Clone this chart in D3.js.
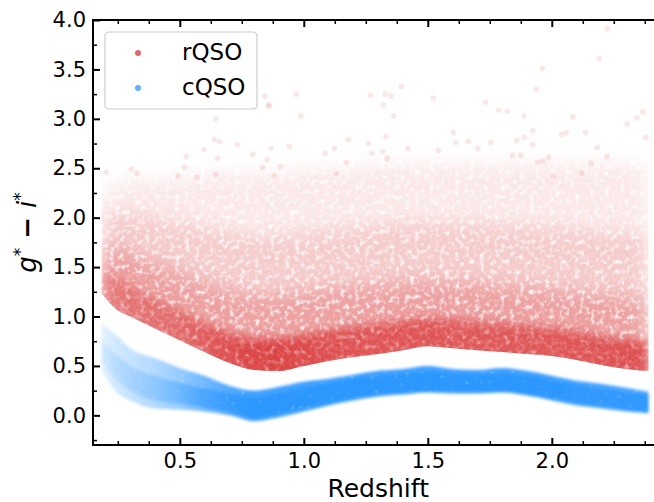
<!DOCTYPE html>
<html>
<head>
<meta charset="utf-8">
<script src="https://cdn.jsdelivr.net/npm/d3@7"></script>
<style>
  body { margin: 0; background: #fff; }
  svg text { font-family: "DejaVu Sans", sans-serif; fill: #000; }
</style>
</head>
<body>
<div id="chart"></div>
<script>
const zGrid = [0.185, 0.25, 0.3, 0.4, 0.5, 0.6, 0.7, 0.8, 0.9, 1.0, 1.1, 1.2, 1.3, 1.4, 1.5, 1.6, 1.7, 1.8, 1.9, 2.0, 2.1, 2.2, 2.3, 2.39];

// rQSO cloud: lower edge and tops of the dense / medium / light / sparse layers
const rLow = [1.25, 1.08, 1.02, 0.90, 0.78, 0.66, 0.55, 0.48, 0.47, 0.52, 0.57, 0.61, 0.64, 0.68, 0.72, 0.70, 0.68, 0.66, 0.64, 0.62, 0.58, 0.53, 0.49, 0.47];
const rQ1  = [1.50, 1.40, 1.32, 1.18, 1.06, 0.94, 0.84, 0.78, 0.78, 0.82, 0.86, 0.90, 0.93, 0.96, 0.98, 0.97, 0.95, 0.93, 0.91, 0.89, 0.85, 0.80, 0.77, 0.75];
const rQ2  = [1.75, 1.70, 1.65, 1.55, 1.45, 1.35, 1.27, 1.22, 1.22, 1.25, 1.28, 1.30, 1.32, 1.35, 1.36, 1.35, 1.34, 1.32, 1.30, 1.28, 1.25, 1.22, 1.20, 1.18];
const rQ3  = [2.05, 2.05, 2.05, 2.00, 1.95, 1.90, 1.85, 1.82, 1.82, 1.85, 1.88, 1.90, 1.92, 1.95, 1.95, 1.95, 1.95, 1.93, 1.92, 1.90, 1.88, 1.85, 1.85, 1.82];
const rQ4  = [2.30, 2.35, 2.40, 2.40, 2.40, 2.45, 2.45, 2.45, 2.45, 2.50, 2.50, 2.50, 2.55, 2.55, 2.55, 2.55, 2.55, 2.55, 2.55, 2.55, 2.55, 2.55, 2.55, 2.50];
const rDens = [0.4, 0.45, 0.5, 0.55, 0.62, 0.75, 0.9, 1.0, 1.0, 0.95, 0.9, 0.85, 0.85, 0.85, 0.85, 0.8, 0.8, 0.8, 0.8, 0.8, 0.85, 0.85, 0.9, 0.9];

// cQSO cloud: outer edges, core edges and relative density along redshift
const bLow  = [0.45, 0.22, 0.15, 0.07, 0.06, 0.04, 0.00, -0.06, -0.02, 0.04, 0.10, 0.15, 0.19, 0.21, 0.23, 0.22, 0.22, 0.23, 0.20, 0.15, 0.10, 0.07, 0.04, 0.02];
const bCLo  = [0.55, 0.35, 0.25, 0.15, 0.12, 0.08, 0.04, -0.02, 0.02, 0.08, 0.13, 0.18, 0.22, 0.24, 0.25, 0.25, 0.24, 0.25, 0.22, 0.18, 0.13, 0.10, 0.06, 0.04];
const bCHi  = [0.75, 0.60, 0.50, 0.40, 0.33, 0.27, 0.22, 0.18, 0.22, 0.28, 0.32, 0.37, 0.40, 0.42, 0.44, 0.42, 0.41, 0.42, 0.40, 0.35, 0.31, 0.27, 0.23, 0.20];
const bHigh = [0.93, 0.80, 0.68, 0.58, 0.48, 0.40, 0.30, 0.25, 0.29, 0.34, 0.37, 0.41, 0.45, 0.47, 0.50, 0.47, 0.46, 0.48, 0.45, 0.40, 0.35, 0.32, 0.28, 0.24];
const bDens = [0.15, 0.25, 0.30, 0.40, 0.55, 0.75, 0.90, 1.0, 1.0, 1.0, 1.0, 1.0, 1.0, 1.0, 1.0, 1.0, 1.0, 1.0, 1.0, 1.0, 0.95, 0.95, 0.95, 0.95];

// sparse rQSO points far above the cloud
const outZ = [0.858, 0.988, 0.644, 0.639, 0.661, 0.733, 1.179, 1.261, 0.597, 0.653, 0.526, 0.794, 0.868, 0.941, 1.086, 1.123, 0.852, 1.171, 0.203, 0.304, 0.327, 0.520, 0.833, 0.906, 1.131, 0.645, 0.492, 0.569, 0.881, 1.274,
  2.223, 2.191, 1.962, 1.393, 1.937, 1.522, 1.329, 1.352, 1.320, 1.269, 1.733, 1.785, 1.820, 1.362, 1.887, 2.085, 2.367, 2.343, 2.304, 2.379, 1.602, 2.038, 2.058, 2.136, 1.923, 1.889, 1.859, 1.331, 1.663, 1.754,
  1.613, 1.420, 1.702, 1.542, 2.183, 2.223, 1.922, 1.319, 1.336, 1.842, 1.873, 1.987, 2.159, 1.942, 1.964, 2.121, 2.004, 0.782, 0.842, 0.860, 0.970];
const outG = [3.14, 3.03, 3.00, 2.79, 2.77, 2.74, 2.79, 2.75, 2.69, 2.60, 2.62, 2.64, 2.70, 2.72, 2.65, 2.70, 2.59, 2.56, 2.46, 2.49, 2.45, 2.51, 2.51, 2.52, 2.45, 2.44, 2.42, 2.41, 2.42, 2.65,
  3.91, 3.61, 3.51, 3.33, 3.30, 3.21, 3.25, 3.23, 3.14, 3.24, 3.17, 3.09, 3.08, 3.03, 3.03, 3.02, 3.07, 3.01, 2.95, 2.81, 2.86, 2.84, 2.86, 2.86, 2.88, 2.81, 2.78, 2.82, 2.77, 2.76,
  2.76, 2.70, 2.70, 2.68, 2.71, 2.62, 2.74, 2.67, 2.60, 2.63, 2.63, 2.61, 2.55, 2.56, 2.57, 2.45, 2.42, 3.63, 3.23, 3.13, 3.25];

const xMajor = [0.5, 1.0, 1.5, 2.0];
const yMajor = [0.0, 0.5, 1.0, 1.5, 2.0, 2.5, 3.0, 3.5, 4.0];

const width = 654, height = 502;
const margin = { top: 20, right: -9.4, bottom: 57, left: 93 };

const svg = d3.select('#chart').append('svg')
  .attr('width', width)
  .attr('height', height);

const x = d3.scaleLinear().domain([0.15, 2.45]).range([margin.left, width - margin.right]);
const y = d3.scaleLinear().domain([-0.3, 4.0]).range([height - margin.bottom, margin.top]);

const defs = svg.append('defs');
defs.append('clipPath').attr('id', 'plotclip').append('rect')
  .attr('x', x(0.15)).attr('y', y(4.0))
  .attr('width', x(2.45) - x(0.15)).attr('height', y(-0.3) - y(4.0));

// blur plus a fine grain, so the filled bands read like a cloud of faint dots
function grainFilter(id, sd, freq, slope, offset, seed) {
  const f = defs.append('filter').attr('id', id)
    .attr('filterUnits', 'userSpaceOnUse')
    .attr('x', 0).attr('y', 0).attr('width', width).attr('height', height)
    .attr('color-interpolation-filters', 'sRGB');
  f.append('feGaussianBlur').attr('in', 'SourceGraphic').attr('stdDeviation', sd).attr('result', 'b');
  f.append('feTurbulence').attr('type', 'fractalNoise').attr('baseFrequency', freq)
    .attr('numOctaves', 2).attr('seed', seed).attr('result', 'n');
  f.append('feColorMatrix').attr('in', 'n').attr('type', 'matrix')
    .attr('values', `0 0 0 0 1  0 0 0 0 1  0 0 0 0 1  ${slope} 0 0 0 ${offset}`)
    .attr('result', 'm');
  f.append('feComposite').attr('in', 'b').attr('in2', 'm')
    .attr('operator', 'arithmetic').attr('k1', 1).attr('k2', 0).attr('k3', 0).attr('k4', 0);
}
grainFilter('redWideF', 9, 0.2, 2.6, -0.35, 4);
grainFilter('redCoreF', 5, 0.2, 2.0, 0.0, 7);
grainFilter('blueF', 1.8, 0.2, 1.2, 0.6, 11);

// region above the red lower edge, so the blurred haze keeps a firm floor
const aboveLow = d3.area()
  .x((d, i) => x(zGrid[i]))
  .y0((d, i) => y(rLow[i]) + 2)
  .y1(y(4.0))
  .curve(d3.curveMonotoneX);
defs.append('clipPath').attr('id', 'redfloor').append('path').attr('d', aboveLow(zGrid));

function densityGradient(id, color, dens) {
  const g = defs.append('linearGradient').attr('id', id)
    .attr('gradientUnits', 'userSpaceOnUse')
    .attr('x1', x(zGrid[0])).attr('x2', x(zGrid[zGrid.length - 1]))
    .attr('y1', 0).attr('y2', 0);
  const span = x(zGrid[zGrid.length - 1]) - x(zGrid[0]);
  zGrid.forEach((z, i) => {
    g.append('stop')
      .attr('offset', (x(z) - x(zGrid[0])) / span)
      .attr('stop-color', color)
      .attr('stop-opacity', dens[i]);
  });
}
densityGradient('bgrad', '#1e90ff', bDens);
densityGradient('rgrad', '#d62728', rDens);

const plot = svg.append('g').attr('clip-path', 'url(#plotclip)');

// red cloud
const redClip = plot.append('g').attr('clip-path', 'url(#redfloor)');
const redWide = redClip.append('g').attr('filter', 'url(#redWideF)');
const redCore = redClip.append('g').attr('filter', 'url(#redCoreF)');
const redLayers = [
  { top: rQ4, op: 0.1, g: redWide, fill: '#d62728' },
  { top: rQ3, op: 0.15, g: redWide, fill: '#d62728' },
  { top: rQ2, op: 0.26, g: redWide, fill: '#d62728' },
  { top: rQ1, op: 0.75, g: redCore, fill: 'url(#rgrad)' }
];
redLayers.forEach(l => {
  const area = d3.area()
    .x((d, i) => x(zGrid[i]))
    .y0((d, i) => y(rLow[i]) + 16)
    .y1((d, i) => y(l.top[i]))
    .curve(d3.curveMonotoneX);
  l.g.append('path').attr('d', area(zGrid)).attr('fill', l.fill).attr('fill-opacity', l.op);
});

plot.append('g').selectAll('circle')
  .data(outZ)
  .enter().append('circle')
  .attr('cx', (d) => x(d))
  .attr('cy', (d, i) => y(outG[i]))
  .attr('r', 2.8)
  .attr('fill', '#d62728')
  .attr('fill-opacity', 0.11);

// blue cloud
const blueG = plot.append('g').attr('filter', 'url(#blueF)');
const outer = d3.area()
  .x((d, i) => x(zGrid[i]))
  .y0((d, i) => y(bLow[i]))
  .y1((d, i) => y(bHigh[i]))
  .curve(d3.curveMonotoneX);
const core = d3.area()
  .x((d, i) => x(zGrid[i]))
  .y0((d, i) => y(bCLo[i]))
  .y1((d, i) => y(bCHi[i]))
  .curve(d3.curveMonotoneX);
blueG.append('path').attr('d', outer(zGrid)).attr('fill', 'url(#bgrad)').attr('fill-opacity', 0.85);
blueG.append('path').attr('d', core(zGrid)).attr('fill', 'url(#bgrad)').attr('fill-opacity', 0.6);

// axes, ticks pointing inward on all four sides
const xMinor = d3.range(0.25, 2.45, 0.125).filter(v => !xMajor.some(m => Math.abs(m - v) < 1e-6));
const yMinor = d3.range(-0.25, 4.01, 0.25).filter(v => !yMajor.some(m => Math.abs(m - v) < 1e-6));

const fmt = d3.format('.1f');
const bottomAxis = d3.axisBottom(x).tickValues(xMajor).tickFormat(fmt).tickSizeInner(-7).tickSizeOuter(0).tickPadding(8);
const bottomMinor = d3.axisBottom(x).tickValues(xMinor).tickFormat('').tickSizeInner(-4).tickSizeOuter(0);
const topAxis = d3.axisTop(x).tickValues(xMajor).tickFormat('').tickSizeInner(-7).tickSizeOuter(0);
const topMinor = d3.axisTop(x).tickValues(xMinor).tickFormat('').tickSizeInner(-4).tickSizeOuter(0);
const leftAxis = d3.axisLeft(y).tickValues(yMajor).tickFormat(fmt).tickSizeInner(-7).tickSizeOuter(0).tickPadding(7);
const leftMinor = d3.axisLeft(y).tickValues(yMinor).tickFormat('').tickSizeInner(-4).tickSizeOuter(0);

function styleAxis(g, major) {
  g.select('.domain').remove();
  g.selectAll('.tick line').attr('stroke', '#000').attr('stroke-width', major ? 2 : 1.5);
  g.selectAll('.tick text').attr('font-size', 21).attr('font-family', '"DejaVu Sans", sans-serif');
}

const yb = y(-0.3), yt = y(4.0), xl = x(0.15), xr = x(2.45);
svg.append('g').attr('transform', `translate(0,${yb})`).call(bottomAxis).call(g => styleAxis(g, true));
svg.append('g').attr('transform', `translate(0,${yb})`).call(bottomMinor).call(g => styleAxis(g, false));
svg.append('g').attr('transform', `translate(0,${yt})`).call(topAxis).call(g => styleAxis(g, true));
svg.append('g').attr('transform', `translate(0,${yt})`).call(topMinor).call(g => styleAxis(g, false));
svg.append('g').attr('transform', `translate(${xl},0)`).call(leftAxis).call(g => styleAxis(g, true));
svg.append('g').attr('transform', `translate(${xl},0)`).call(leftMinor).call(g => styleAxis(g, false));

svg.append('rect')
  .attr('x', xl).attr('y', yt).attr('width', xr - xl).attr('height', yb - yt)
  .attr('fill', 'none').attr('stroke', '#000').attr('stroke-width', 2);

// axis labels
svg.append('text')
  .attr('x', (xl + xr) / 2).attr('y', 497)
  .attr('text-anchor', 'middle').attr('font-size', 25)
  .text('Redshift');

const yl = svg.append('text')
  .attr('transform', `translate(36,${(yt + yb) / 2}) rotate(-90)`)
  .attr('text-anchor', 'middle').attr('font-size', 26);
yl.append('tspan').attr('font-style', 'italic').text('g');
yl.append('tspan').attr('dy', -10).attr('font-size', 17).text('*');
yl.append('tspan').attr('dy', 10).attr('font-weight', 'bold').text(' − ');
yl.append('tspan').attr('font-style', 'italic').text('i');
yl.append('tspan').attr('dy', -10).attr('font-size', 17).text('*');

// legend
const leg = svg.append('g');
leg.append('rect')
  .attr('x', 105).attr('y', 32).attr('width', 152).attr('height', 77)
  .attr('rx', 4).attr('fill', '#fff').attr('fill-opacity', 0.8)
  .attr('stroke', '#cccccc').attr('stroke-width', 1.2);
const legItems = [
  { label: 'rQSO', color: '#d62728', cy: 53 },
  { label: 'cQSO', color: '#1e90ff', cy: 88 }
];
legItems.forEach(it => {
  leg.append('circle').attr('cx', 138).attr('cy', it.cy).attr('r', 3).attr('fill', it.color).attr('fill-opacity', 0.7);
  leg.append('text').attr('x', 182).attr('y', it.cy + 7).attr('font-size', 23).text(it.label);
});
</script>
</body>
</html>
